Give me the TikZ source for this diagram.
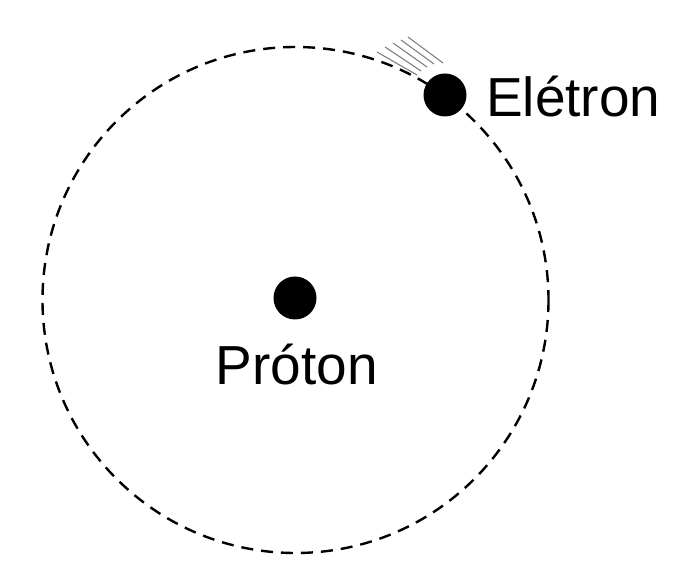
\documentclass[tikz,border=0pt]{standalone}
\usepackage{fontspec}
\setmainfont{Liberation Sans}
\begin{document}
\begin{tikzpicture}[x=1pt,y=-1pt,
  lbl/.style={font=\fontsize{55}{60}\selectfont,inner sep=0pt},
  dot/.style={circle,fill=black,inner sep=0pt}]
\useasboundingbox (0,0) rectangle (678,577);
\draw[line width=2.4pt,dash pattern=on 12pt off 8pt] (295.5,300) circle (253);
\node[dot,minimum size=43pt] (e) at (445,95) {};
\node[dot,minimum size=43pt] (p) at (295,298) {};
\node[lbl,anchor=west] (el) at (486,97) {Elétron};
\node[lbl] (pl) at (297,365) {Próton};
\foreach \a/\b/\c/\d in {377/52/417/75, 385/47/421/71, 393/43/427/67, 401/40/434/64, 408/37/443/63}
  \draw[gray,line width=1.1pt] (\a,\b) -- (\c,\d);
\end{tikzpicture}
\end{document}
